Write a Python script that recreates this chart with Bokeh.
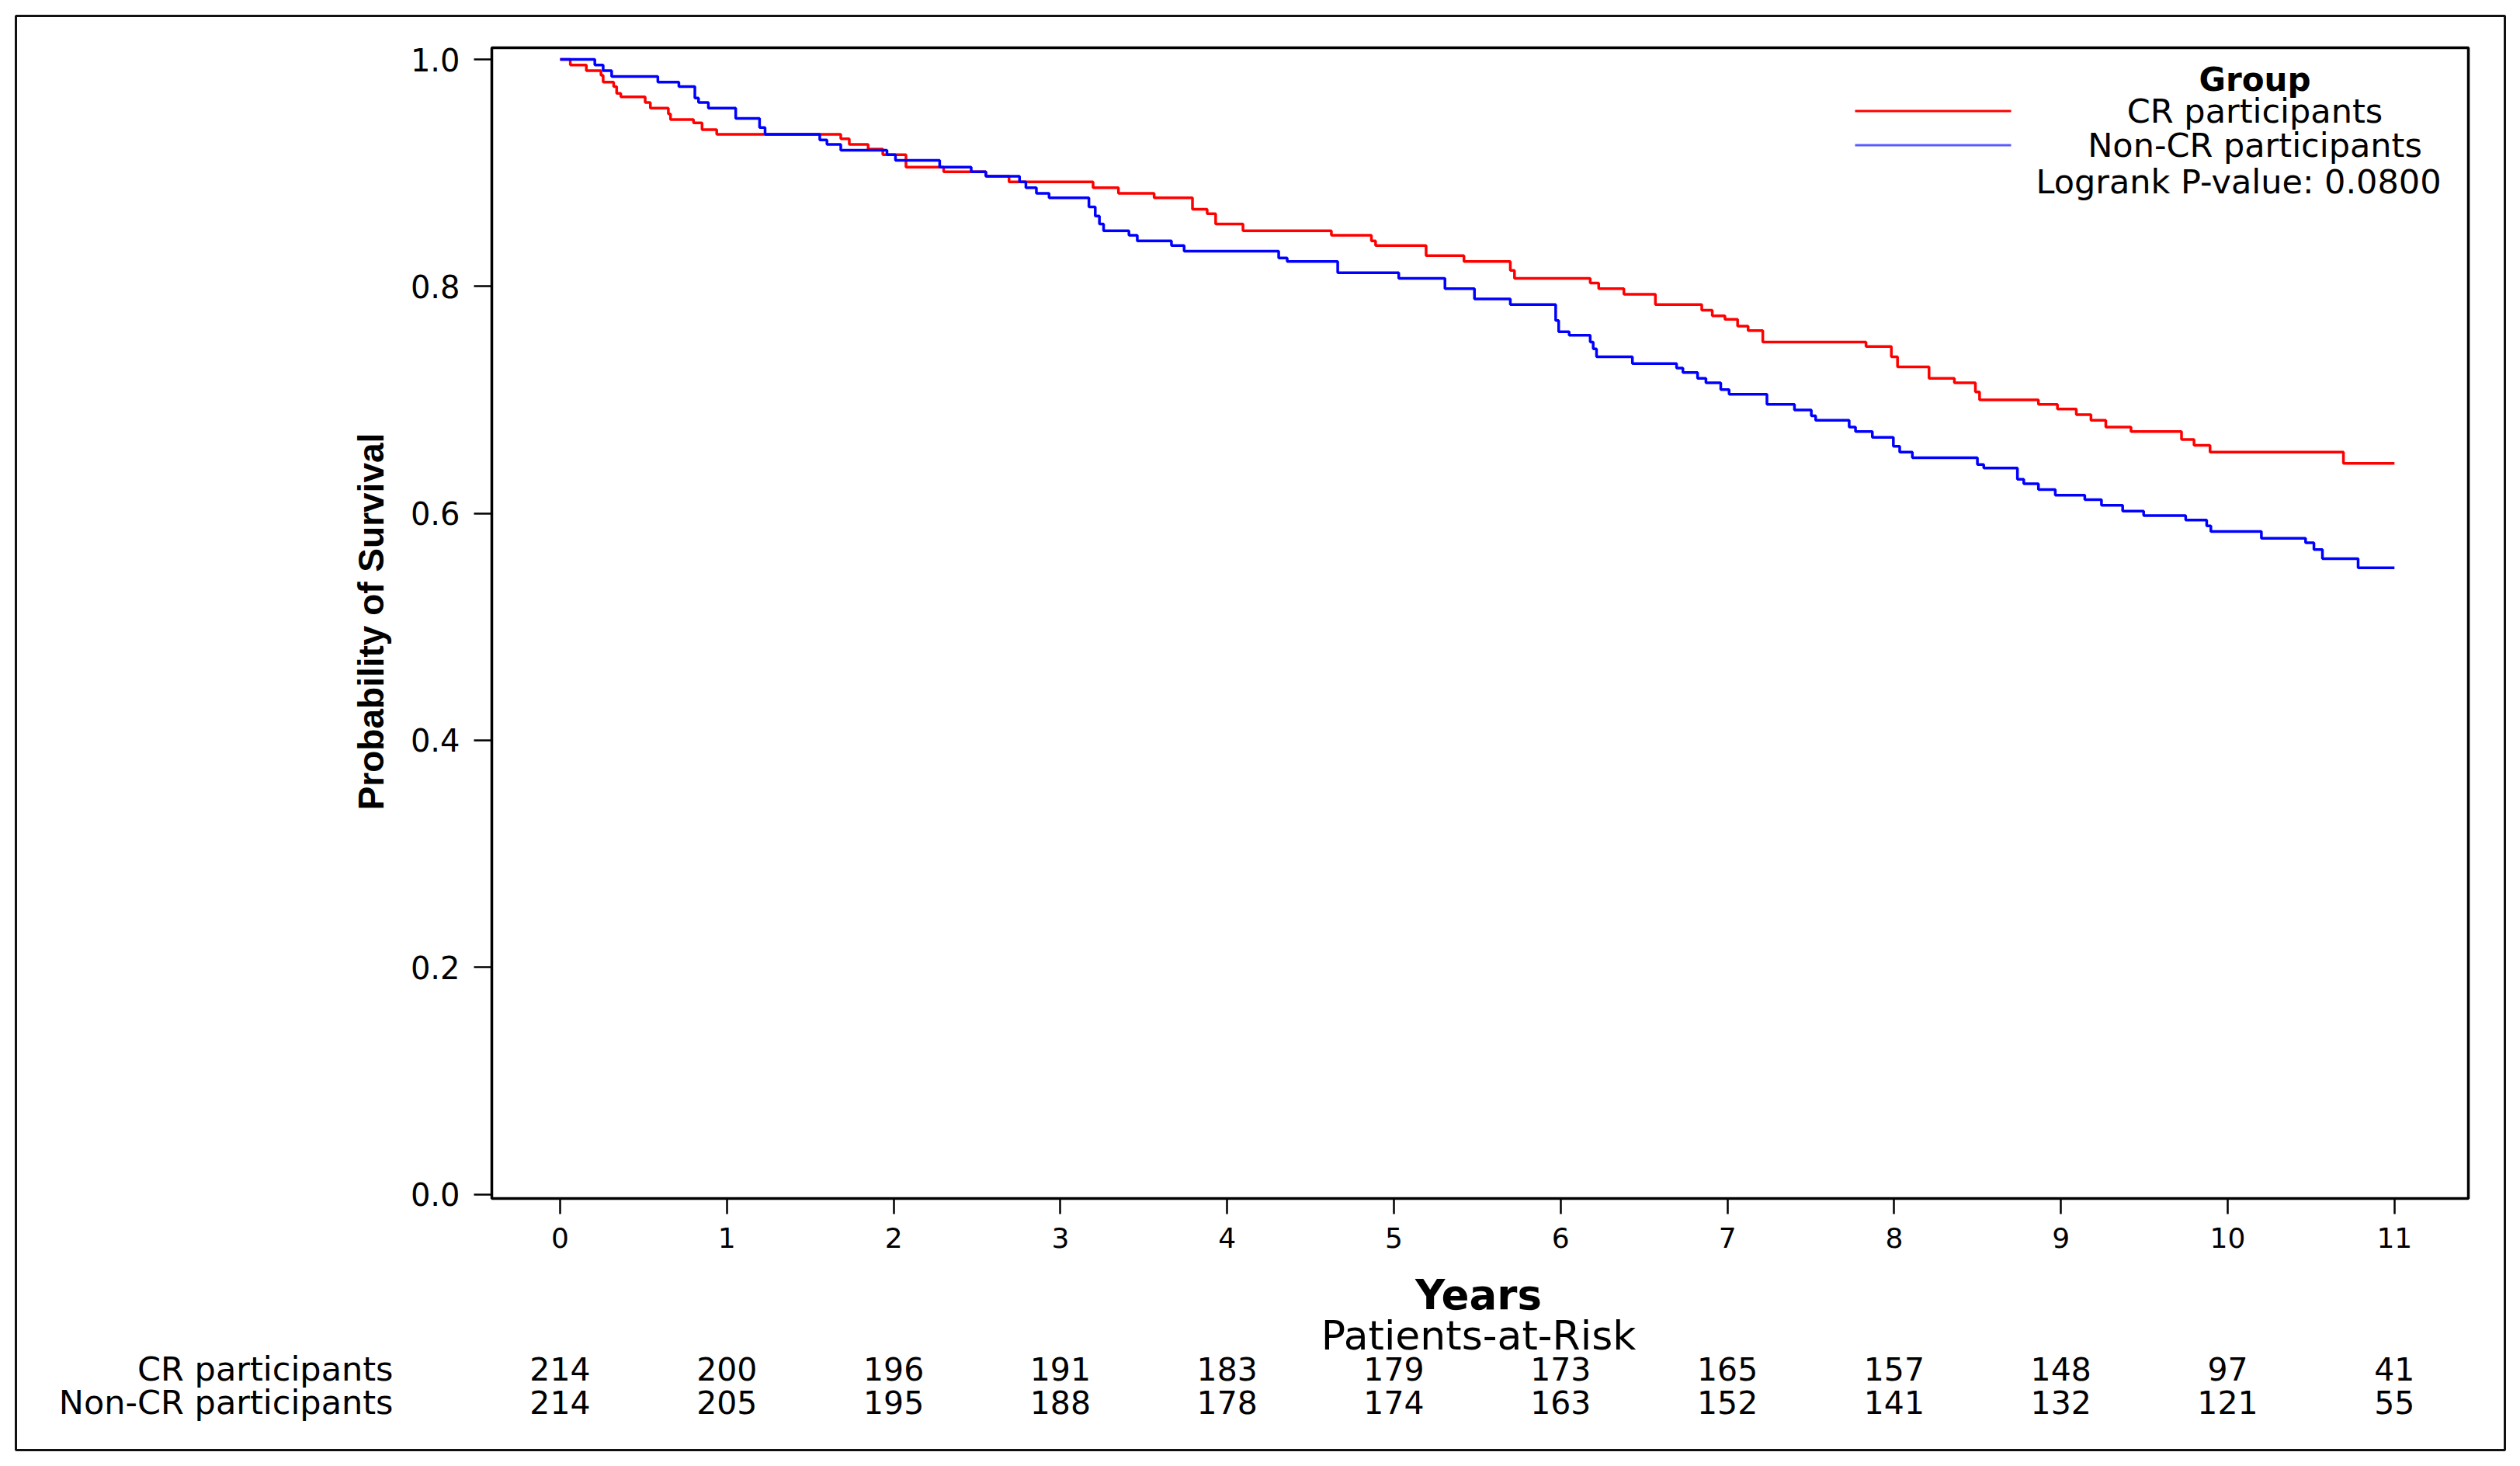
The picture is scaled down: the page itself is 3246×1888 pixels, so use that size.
import math
from bokeh.plotting import figure
from bokeh.models import Range1d, FixedTicker, PrintfTickFormatter, Label, BoxAnnotation
from bokeh.embed import file_html
from bokeh.resources import INLINE

# ---------------- data ----------------
cr_time = [0, 0.061, 0.157, 0.245, 0.258, 0.321, 0.339, 0.364, 0.510, 0.541, 0.649, 0.662, 0.800,
           0.851, 0.939, 1.683, 1.734, 1.847, 1.935, 2.074, 2.300, 2.553, 2.692, 3.196, 3.348, 3.562,
           3.792, 3.880, 3.931, 4.095, 4.625, 4.865, 4.890, 5.193, 5.420, 5.698, 5.723, 6.177, 6.228,
           6.379, 6.568, 6.846, 6.909, 6.985, 7.061, 7.124, 7.212, 7.831, 7.983, 8.020, 8.209, 8.361,
           8.487, 8.512, 8.865, 8.979, 9.092, 9.180, 9.269, 9.420, 9.723, 9.798, 9.894, 10.694, 11.0]
cr_surv = [1.0, 0.995, 0.990, 0.986, 0.980, 0.976, 0.970, 0.967, 0.962, 0.957, 0.952, 0.947, 0.944,
           0.938, 0.934, 0.930, 0.925, 0.921, 0.916, 0.905, 0.901, 0.897, 0.892, 0.887, 0.882, 0.878,
           0.868, 0.864, 0.855, 0.849, 0.845, 0.840, 0.836, 0.827, 0.822, 0.814, 0.807, 0.803, 0.798,
           0.793, 0.784, 0.779, 0.774, 0.771, 0.765, 0.761, 0.751, 0.747, 0.738, 0.729, 0.719, 0.715,
           0.707, 0.700, 0.696, 0.692, 0.687, 0.682, 0.676, 0.672, 0.665, 0.660, 0.654, 0.644, 0.644]

ncr_time = [0, 0.208, 0.258, 0.309, 0.586, 0.712, 0.808, 0.830, 0.889, 1.053, 1.196, 1.229, 1.557,
            1.600, 1.683, 1.960, 2.011, 2.276, 2.465, 2.553, 2.755, 2.793, 2.856, 2.932, 3.171, 3.209,
            3.234, 3.259, 3.411, 3.461, 3.666, 3.742, 4.309, 4.360, 4.663, 5.029, 5.306, 5.483, 5.698,
            5.970, 5.988, 6.051, 6.177, 6.195, 6.215, 6.430, 6.695, 6.733, 6.821, 6.871, 6.960, 7.010,
            7.237, 7.402, 7.503, 7.529, 7.730, 7.768, 7.869, 7.995, 8.033, 8.109, 8.499, 8.537, 8.739,
            8.777, 8.865, 8.966, 9.143, 9.243, 9.370, 9.496, 9.748, 9.874, 9.899, 10.202, 10.467,
            10.517, 10.568, 10.782, 11.0]
ncr_surv = [1.0, 0.995, 0.990, 0.985, 0.980, 0.976, 0.966, 0.962, 0.957, 0.948, 0.940, 0.934, 0.929,
            0.925, 0.920, 0.916, 0.911, 0.905, 0.901, 0.897, 0.892, 0.887, 0.882, 0.878, 0.870, 0.862,
            0.855, 0.849, 0.845, 0.840, 0.836, 0.831, 0.825, 0.822, 0.812, 0.807, 0.798, 0.789, 0.784,
            0.770, 0.760, 0.757, 0.751, 0.745, 0.738, 0.732, 0.728, 0.724, 0.719, 0.715, 0.709, 0.705,
            0.696, 0.691, 0.686, 0.682, 0.676, 0.672, 0.667, 0.659, 0.654, 0.649, 0.643, 0.640, 0.630,
            0.626, 0.621, 0.616, 0.612, 0.607, 0.602, 0.598, 0.594, 0.589, 0.584, 0.578, 0.574,
            0.568, 0.560, 0.552, 0.552]

x_ticks = list(range(12))
x_tick_labels = [str(t) for t in x_ticks]
y_ticks = [0.0, 0.2, 0.4, 0.6, 0.8, 1.0]
y_tick_labels = ["0.0", "0.2", "0.4", "0.6", "0.8", "1.0"]

group_names = ["CR participants", "Non-CR participants"]
group_colors = ["#FF0000", "#0000FF"]
cr_risk = [214, 200, 196, 191, 183, 179, 173, 165, 157, 148, 97, 41]
ncr_risk = [214, 205, 195, 188, 178, 174, 163, 152, 141, 132, 121, 55]
pvalue_text = "Logrank P-value: 0.0800"

# ---------------- layout (canvas pixels) ----------------
W, H = 3230, 1872
X0_PX, PX_PER_YEAR = 721.0, 214.8        # canvas x of year 0, pixels per year
Y0_PX, PX_PER_UNIT = 1537.5, 1461.5      # canvas y of survival 0, pixels per unit


def dx(cx):
    return (cx - X0_PX) / PX_PER_YEAR


def dy(cy):
    return (Y0_PX - cy) / PX_PER_UNIT


FL, FR, FT, FB = 20, 3226, 20, 1867       # outer border (frame)
PL, PR, PT, PB = 633, 3179, 61, 1543      # plot area box

p = figure(width=W, height=H, output_backend="svg", toolbar_location=None,
           x_range=Range1d(dx(FL), dx(FR)), y_range=Range1d(dy(FB), dy(FT)),
           min_border_left=FL, min_border_right=W - FR, min_border_top=FT,
           min_border_bottom=H - FB)
p.grid.visible = False
p.outline_line_color = "#111111"
p.outline_line_width = 3
p.outline_line_alpha = 1.0
p.background_fill_color = "white"
p.border_fill_color = "white"

xa = p.xaxis[0]
xa.fixed_location = dy(PB)
xa.bounds = (dx(PL), dx(PR))
xa.ticker = FixedTicker(ticks=x_ticks, minor_ticks=[])
xa.major_label_overrides = dict(zip(x_ticks, x_tick_labels))
xa.major_tick_out = 20
xa.major_tick_in = 0
xa.minor_tick_out = 0
xa.minor_tick_in = 0
xa.major_label_standoff = 17
xa.major_label_text_font = "DejaVu Sans"
xa.major_label_text_font_size = "36px"
xa.major_label_text_color = "black"
xa.axis_line_width = 3
xa.axis_line_color = "black"
xa.major_tick_line_width = 2.5
xa.major_tick_line_color = "black"

ya = p.yaxis[0]
ya.fixed_location = dx(PL)
ya.bounds = (dy(PB), dy(PT))
ya.ticker = FixedTicker(ticks=y_ticks, minor_ticks=[])
ya.formatter = PrintfTickFormatter(format="%.1f")
ya.major_label_overrides = dict(zip(y_ticks, y_tick_labels))
ya.major_tick_out = 23
ya.major_tick_in = 0
ya.minor_tick_out = 0
ya.minor_tick_in = 0
ya.major_label_standoff = 18
ya.major_label_text_font = "DejaVu Sans"
ya.major_label_text_font_size = "40px"
ya.major_label_text_color = "black"
ya.axis_line_width = 3
ya.axis_line_color = "black"
ya.major_tick_line_width = 2.5
ya.major_tick_line_color = "black"

# plot area box
p.add_layout(BoxAnnotation(left=dx(PL), right=dx(PR), bottom=dy(PB), top=dy(PT),
                           fill_color=None, fill_alpha=0, line_color="black",
                           line_alpha=1.0, line_width=3.5))

# survival curves
p.step(cr_time, cr_surv, mode="after", line_color=group_colors[0], line_width=3.5)
p.step(ncr_time, ncr_surv, mode="after", line_color=group_colors[1], line_width=3.5)

# legend (manual, SAS style)
leg_y = [142.5, 186.5]
p.segment(x0=[dx(2389)] * 2, x1=[dx(2590)] * 2, y0=[dy(v) for v in leg_y],
          y1=[dy(v) for v in leg_y], line_color=["#FF0000", "#5A5AFF"], line_width=3)


def add_text(cx, cy, text, size, align="center", bold=False, font="DejaVu Sans", angle=0.0):
    p.add_layout(Label(x=dx(cx), y=dy(cy), text=text, text_align=align,
                       text_baseline="middle", text_font=font,
                       text_font_style="bold" if bold else "normal",
                       text_font_size=f"{size}px", text_color="black",
                       angle=angle, angle_units="rad"))


add_text(2904, 102, "Group", 42, bold=True)
add_text(2904, 142, group_names[0], 43)
add_text(2904, 186, group_names[1], 43)
add_text(2883, 233, pvalue_text, 43)

# axis titles
add_text(477, 800, "Probability of Survival", 46, bold=True, font="Liberation Sans",
         angle=math.pi / 2)
add_text(1904, 1666.5, "Years", 53, bold=True)
add_text(1904, 1719, "Patients-at-Risk", 52)

# at-risk table
for name, counts, cy in [(group_names[0], cr_risk, 1762), (group_names[1], ncr_risk, 1805)]:
    add_text(506, cy, name, 43, align="right")
    for t, n in zip(x_ticks, counts):
        p.add_layout(Label(x=t, y=dy(cy), text=str(n), text_align="center",
                           text_baseline="middle", text_font="DejaVu Sans",
                           text_font_size="41px", text_color="black"))

open("out.html", "w").write(file_html(p, INLINE))
